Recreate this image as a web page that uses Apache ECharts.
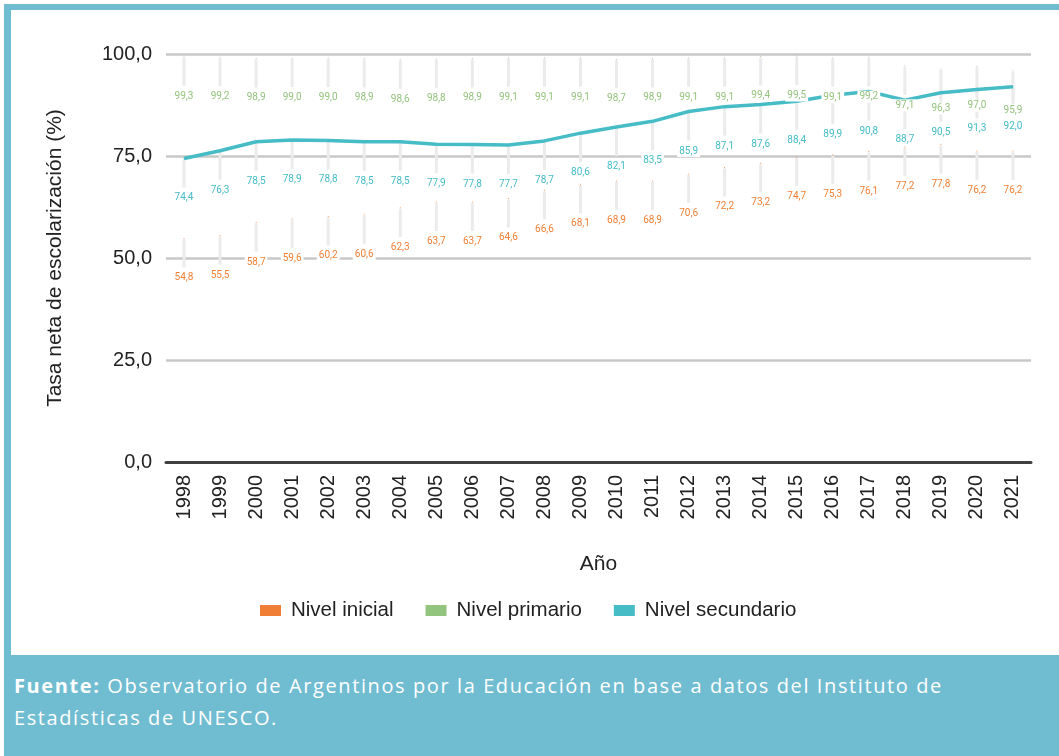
<!DOCTYPE html>
<html lang="es">
<head>
    <meta charset="UTF-8">
    <title>Tasa neta de escolarización</title>
    <script src="https://cdn.jsdelivr.net/npm/echarts@6/dist/echarts.min.js"></script>
    <style>
        body {
            margin: 0;
            background: #fff;
            width: 1059px;
            height: 756px;
            overflow: hidden;
            position: relative;
        }

        .frame {
            position: absolute;
            left: 4px;
            top: 4px;
            right: 0;
            bottom: 0;
            background: #70bcd0;
        }

        .inner {
            position: absolute;
            left: 11px;
            top: 10px;
            right: 0;
            height: 645px;
            background: #fff;
        }

        #chart {
            position: absolute;
            left: 0;
            top: 0;
            width: 1059px;
            height: 756px;
        }

        .fuente {
            position: absolute;
            left: 14px;
            top: 670px;
            width: 970px;
            color: #fff;
            font-family: "Open Sans", sans-serif;
            font-size: 20px;
            letter-spacing: 1.6px;
            line-height: 32px;
        }
    </style>
</head>
<body>
    <div class="frame"></div>
    <div class="inner"></div>
    <div class="fuente"><b>Fuente:</b> Observatorio de Argentinos por la Educación en base a datos del Instituto de Estadísticas de UNESCO.</div>
    <div id="chart"></div>

    <script>
        // datos
        const years = ['1998', '1999', '2000', '2001', '2002', '2003', '2004', '2005', '2006', '2007', '2008',
            '2009', '2010', '2011', '2012', '2013', '2014', '2015', '2016', '2017', '2018', '2019', '2020', '2021'];
        const inicial = [54.8, 55.5, 58.7, 59.6, 60.2, 60.6, 62.3, 63.7, 63.7, 64.6, 66.6, 68.1,
            68.9, 68.9, 70.6, 72.2, 73.2, 74.7, 75.3, 76.1, 77.2, 77.8, 76.2, 76.2];
        const primario = [99.3, 99.2, 98.9, 99.0, 99.0, 98.9, 98.6, 98.8, 98.9, 99.1, 99.1, 99.1,
            98.7, 98.9, 99.1, 99.1, 99.4, 99.5, 99.1, 99.2, 97.1, 96.3, 97.0, 95.9];
        const secundario = [74.4, 76.3, 78.5, 78.9, 78.8, 78.5, 78.5, 77.9, 77.8, 77.7, 78.7, 80.6,
            82.1, 83.5, 85.9, 87.1, 87.6, 88.4, 89.9, 90.8, 88.7, 90.5, 91.3, 92.0];
        const yTicks = [0, 25, 50, 75, 100];

        const fmt = v => v.toFixed(1).replace('.', ',');

        // líneas guía de las etiquetas
        const leaderData = [];
        [inicial, primario, secundario].forEach(arr => arr.forEach((v, i) => leaderData.push([i, v])));

        function labelSeries(name, color, data, lineVisible) {
            return {
                name: name,
                type: 'line',
                data: data,
                z: 3,
                symbol: 'circle',
                symbolSize: 1,
                showSymbol: true,
                itemStyle: { color: color },
                lineStyle: { color: color, width: lineVisible ? 3.5 : 0, opacity: lineVisible ? 1 : 0 },
                label: {
                    show: true,
                    position: 'bottom',
                    distance: 33,
                    color: color,
                    fontFamily: 'Roboto',
                    fontSize: 10,
                    backgroundColor: '#fff',
                    padding: [1, 2],
                    formatter: p => fmt(p.value)
                },
                emphasis: { disabled: true },
                animation: false
            };
        }

        const chart = echarts.init(document.getElementById('chart'));
        chart.setOption({
            backgroundColor: 'transparent',
            animation: false,
            textStyle: { fontFamily: 'Liberation Sans, Arial, sans-serif' },
            grid: { left: 166, top: 54, width: 865, height: 408 },
            legend: {
                left: 255,
                top: 595,
                icon: 'rect',
                itemWidth: 21,
                itemHeight: 11,
                itemGap: 32,
                data: ['Nivel inicial', 'Nivel primario', 'Nivel secundario'],
                textStyle: { fontSize: 20.5, color: '#222', padding: [0, 0, 0, 5] }
            },
            xAxis: {
                type: 'category',
                data: years,
                name: 'Año',
                nameLocation: 'middle',
                nameGap: 92,
                nameTextStyle: { fontSize: 21, color: '#222' },
                axisLine: { lineStyle: { color: '#404040', width: 3 } },
                axisTick: { show: false },
                axisLabel: { rotate: 90, fontSize: 20, color: '#222', margin: 13 }
            },
            yAxis: {
                type: 'value',
                min: yTicks[0],
                max: yTicks[yTicks.length - 1],
                interval: 25,
                name: 'Tasa neta de escolarización (%)',
                nameLocation: 'middle',
                nameGap: 100,
                nameTextStyle: { fontSize: 21, color: '#222' },
                axisLine: { show: false },
                axisTick: { show: false },
                axisLabel: { fontSize: 20, color: '#222', margin: 14, formatter: v => fmt(v) },
                splitLine: { lineStyle: { color: '#c8c8c8', width: 2.5 } }
            },
            series: [
                {
                    name: 'guias',
                    type: 'custom',
                    z: 1,
                    silent: true,
                    data: leaderData,
                    renderItem: (params, api) => {
                        const p = api.coord([api.value(0), api.value(1)]);
                        return {
                            type: 'line',
                            shape: { x1: p[0], y1: p[1] + 1, x2: p[0], y2: p[1] + 29 },
                            style: { stroke: '#ebebeb', lineWidth: 3 }
                        };
                    }
                },
                labelSeries('Nivel inicial', '#f07f35', inicial, false),
                labelSeries('Nivel primario', '#93c47d', primario, false),
                labelSeries('Nivel secundario', '#45bcc6', secundario, true)
            ]
        });
    </script>
</body>
</html>
